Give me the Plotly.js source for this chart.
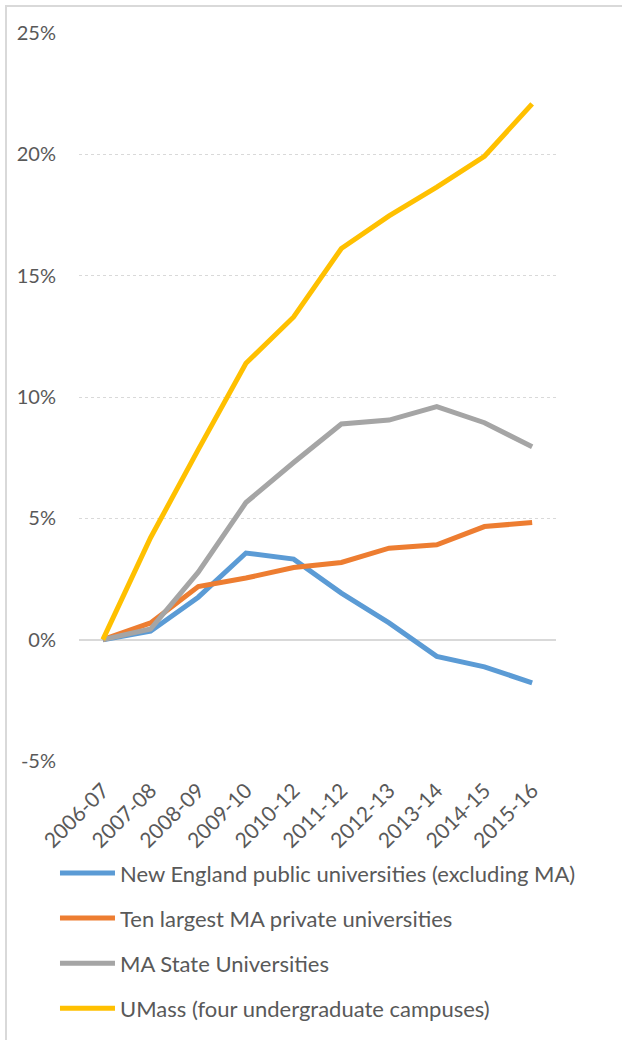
<!DOCTYPE html>
<html>
<head>
<meta charset="utf-8">
<script src="https://cdn.plot.ly/plotly-3.0.1.min.js"></script>
<style>
  html, body { margin: 0; padding: 0; background: #fff; }
  #frame { position: absolute; left: 5px; top: 5px; width: 640px; height: 1060px;
           border-top: 2px solid #d9d9d9; border-left: 2px solid #d9d9d9; pointer-events: none; }
  #chart { width: 622px; height: 1040px; }
</style>
</head>
<body>
<div id="chart"></div>
<div id="frame"></div>
<script>
const years = ["2006-07","2007-08","2008-09","2009-10","2010-12","2011-12","2012-13","2013-14","2014-15","2015-16"];
const newEnglandPublic = [0, 0.35, 1.75, 3.57, 3.32, 1.92, 0.69, -0.69, -1.12, -1.78];
const maPrivate = [0, 0.69, 2.19, 2.54, 2.97, 3.18, 3.77, 3.91, 4.66, 4.83];
const maState = [0, 0.44, 2.78, 5.65, 7.3, 8.89, 9.05, 9.6, 8.94, 7.95];
const umass = [0, 4.2, 7.83, 11.39, 13.3, 16.12, 17.46, 18.65, 19.92, 22.08];
const seriesNames = [
  "New England public universities (excluding MA)",
  "Ten largest MA private universities",
  "MA State Universities",
  "UMass (four undergraduate campuses)"
];
const colors = ["#5B9BD5", "#ED7D31", "#A5A5A5", "#FFC000"];
const allSeries = [newEnglandPublic, maPrivate, maState, umass];
const yTicks = [-5, 0, 5, 10, 15, 20, 25];

const traces = allSeries.map((vals, i) => ({
  x: years,
  y: vals.map(v => v / 100),
  type: "scatter",
  mode: "lines",
  name: seriesNames[i],
  legendgroup: "g" + i,
  line: { color: colors[i], width: 5 },
  hoverinfo: "skip"
}));

const layout = {
  width: 622,
  height: 1040,
  margin: { l: 79, r: 66, t: 33, b: 279, autoexpand: false },
  paper_bgcolor: "#ffffff",
  plot_bgcolor: "#ffffff",
  font: { family: "Lato, 'Open Sans', sans-serif", color: "#595959", size: 20 },
  showlegend: true,
  xaxis: {
    type: "category",
    range: [-0.5, 9.5],
    tickangle: -45,
    ticks: "outside",
    ticklen: 8,
    tickcolor: "rgba(0,0,0,0)",
    showgrid: false,
    zeroline: false,
    showline: false,
    automargin: false,
    tickfont: { size: 21, color: "#595959" },
    fixedrange: true
  },
  yaxis: {
    range: [-0.05, 0.25],
    tickvals: yTicks.map(v => v / 100),
    ticktext: yTicks.map(v => v + "%"),
    showgrid: true,
    gridcolor: "#d9d9d9",
    griddash: "dot",
    gridwidth: 1,
    zeroline: true,
    zerolinecolor: "#d9d9d9",
    zerolinewidth: 2,
    showline: false,
    automargin: false,
    ticks: "",
    ticklabelstandoff: 22,
    tickfont: { size: 20, color: "#595959" },
    fixedrange: true
  },
  legend: {
    orientation: "v",
    xref: "container",
    yref: "container",
    x: 0.0884,
    xanchor: "left",
    y: 0.1806,
    yanchor: "top",
    traceorder: "grouped",
    tracegroupgap: 13.5,
    itemwidth: 55,
    font: { size: 22, color: "#595959" },
    bgcolor: "rgba(0,0,0,0)"
  }
};

Plotly.newPlot("chart", traces, layout, { displayModeBar: false, staticPlot: true });
</script>
</body>
</html>
